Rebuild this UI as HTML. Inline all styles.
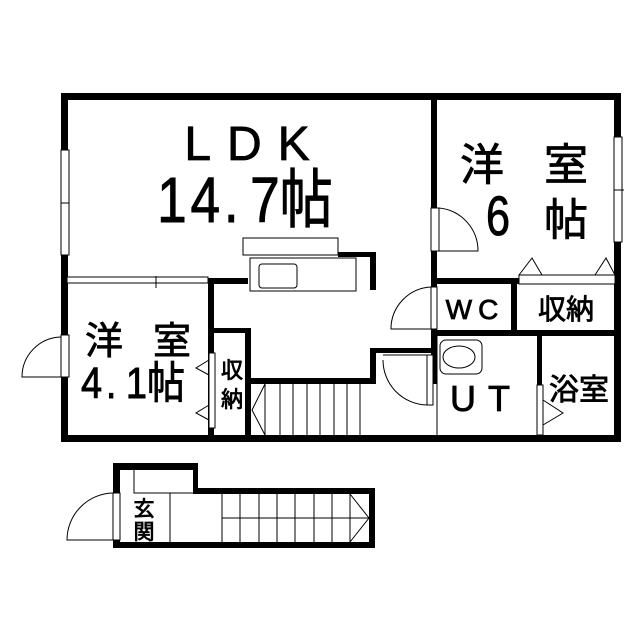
<!DOCTYPE html>
<html><head><meta charset="utf-8"><style>
html,body{margin:0;padding:0;background:#fff}
svg{display:block}
text{font-family:"Liberation Sans","Noto Sans CJK JP",sans-serif;fill:#000}
</style></head><body>
<svg width="640" height="640" viewBox="0 0 640 640" xmlns="http://www.w3.org/2000/svg">
<g fill="#000">
<rect x="61" y="93" width="559" height="7"/>
<rect x="61" y="435" width="559" height="7"/>
<rect x="61" y="93" width="7" height="349"/>
<rect x="614" y="93" width="7" height="349"/>
<rect x="431" y="93" width="6" height="190"/>
<rect x="431" y="278" width="190" height="6"/>
<rect x="431" y="330" width="190" height="6"/>
<rect x="511" y="278" width="6" height="58"/>
<rect x="537" y="330" width="5" height="55"/>
<rect x="431" y="278" width="6" height="106"/>
<rect x="208" y="278" width="40" height="6"/>
<rect x="208" y="278" width="6" height="160"/>
<rect x="214" y="328" width="36" height="5"/>
<rect x="245" y="328" width="6" height="110"/>
<rect x="250" y="378" width="126" height="6"/>
<rect x="370" y="348" width="6" height="36"/>
<rect x="370" y="348" width="63" height="5"/>
<rect x="338" y="252" width="38" height="5"/>
<rect x="370" y="252" width="6" height="38"/>
<rect x="113" y="463" width="85" height="7"/>
<rect x="113" y="463" width="7" height="85"/>
<rect x="193" y="463" width="5" height="30"/>
<rect x="193" y="488" width="182" height="6"/>
<rect x="369" y="488" width="6" height="60"/>
<rect x="113" y="542" width="262" height="6"/>
</g>
<g fill="#fff" stroke="#000" stroke-width="1">
<rect x="61" y="150" width="8" height="105"/>
<rect x="614" y="137" width="8" height="105"/>
<rect x="61" y="335" width="8" height="42"/>
<rect x="431" y="208" width="8" height="43"/>
<rect x="431" y="287" width="6" height="42"/>
<rect x="427" y="355" width="6" height="50"/>
<rect x="67" y="277" width="141" height="6"/>
<rect x="209" y="353" width="6" height="75"/>
<rect x="519" y="275" width="96" height="9"/>
<rect x="537" y="385" width="6" height="50"/>
<rect x="113" y="493" width="7" height="47"/>
<rect x="243" y="238" width="95" height="17"/>
<rect x="250" y="258" width="106" height="33"/>
<rect x="259" y="264" width="38" height="24" rx="3"/>
<rect x="440" y="340" width="42" height="34" rx="6"/>
<ellipse cx="459" cy="357" rx="16" ry="11"/>
</g>
<g fill="none" stroke="#000" stroke-width="1">
<line x1="156" y1="276" x2="156" y2="288"/>
<line x1="61" y1="203" x2="69" y2="203"/>
<line x1="614" y1="190" x2="624" y2="190"/>
<path d="M61 377 L22 377 A40 40 0 0 1 61 337"/>
<path d="M439 208 A43 43 0 0 1 478 251 L439 251"/>
<path d="M431 287 A42 42 0 0 0 391 329 L431 329"/>
<path d="M383 355 L427 355 L427 405 A45 45 0 0 1 383 360"/>
<path d="M113 493 A47 47 0 0 0 67 540 L113 540"/>
<path d="M519 275 L532 258 L542 275 M595 275 L606 258 L615 275"/>
<path d="M209 360 L196 368 L209 375 M209 405 L196 413 L209 420"/>
<path d="M543 400 L563 413 L543 425"/>
<path d="M265 384 V435 M280 384 V435 M293 384 V435 M307 384 V435 M320 384 V435 M334 384 V435 M347 384 V435 M360 384 V435"/>
<path d="M265 384 L252 410 L265 435"/>
<path d="M222 494 V542 M240 494 V542 M259 494 V542 M277 494 V542 M295 494 V542 M314 494 V542 M332 494 V542 M350 494 V542 M222 518 H369 M350 494 L369 518 L350 542"/>
<path d="M134 470 V493 H193 M170 493 V542"/>
<line x1="437" y1="336" x2="437" y2="435"/>
</g>
<g stroke="#000" stroke-width="0.8">
<text x="255" y="160" font-size="48" text-anchor="middle" letter-spacing="16">LDK</text>
<text transform="translate(245,222) scale(0.95,1.15)" font-size="56" text-anchor="middle">1<tspan dx="4">4</tspan><tspan dx="4">.</tspan><tspan dx="12">7</tspan>帖</text>
<text x="482" y="180" font-size="44" text-anchor="middle">洋</text>
<text x="566" y="180" font-size="44" text-anchor="middle">室</text>
<text transform="translate(498,235) scale(0.9,1.15)" font-size="48" text-anchor="middle">6</text>
<text x="566" y="235" font-size="44" text-anchor="middle">帖</text>
<text x="104" y="354" font-size="38" text-anchor="middle">洋</text>
<text x="172" y="354" font-size="38" text-anchor="middle">室</text>
<text transform="translate(133,398) scale(0.95,1.1)" font-size="40" text-anchor="middle">4<tspan dx="4">.</tspan><tspan dx="10">1</tspan>帖</text>
<text x="232" y="378" font-size="22" text-anchor="middle">収</text>
<text x="232" y="407" font-size="22" text-anchor="middle">納</text>
<text x="475" y="319" font-size="28" text-anchor="middle" letter-spacing="6">WC</text>
<text x="566" y="319" font-size="28" text-anchor="middle">収納</text>
<text x="486" y="411" font-size="36" text-anchor="middle" letter-spacing="12">UT</text>
<text x="579" y="400" font-size="30" text-anchor="middle">浴室</text>
<text x="144" y="516" font-size="21" text-anchor="middle">玄</text>
<text x="144" y="539" font-size="21" text-anchor="middle">関</text>
</g>
</svg>
</body></html>
